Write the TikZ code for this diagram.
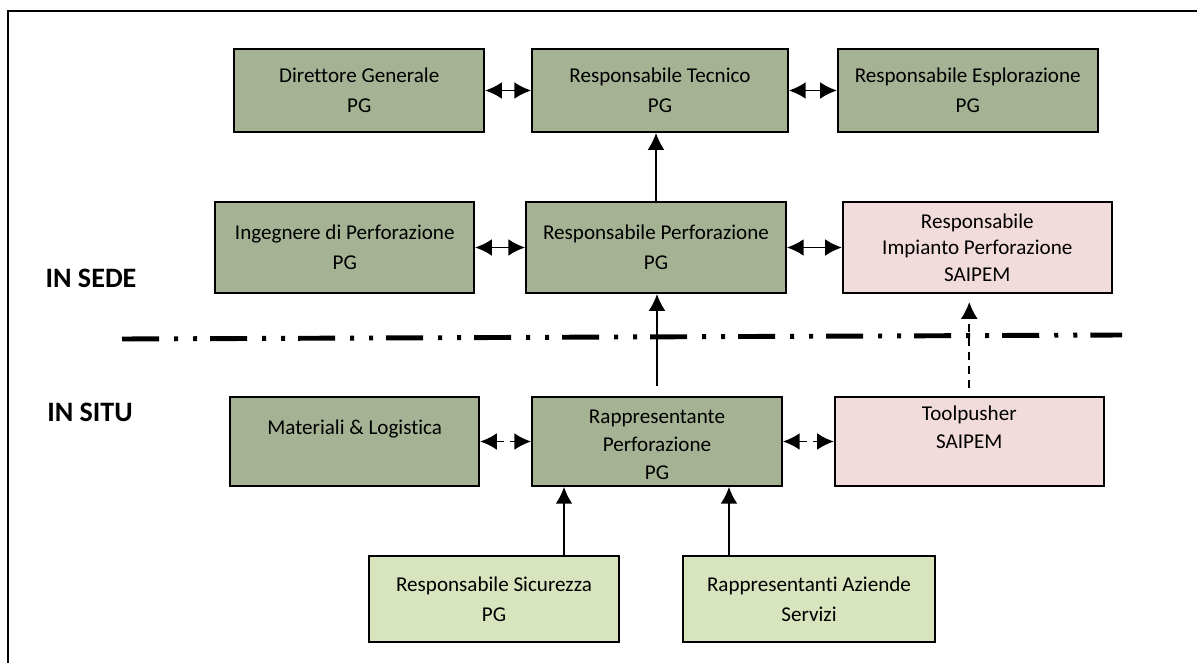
\documentclass[tikz,border=0pt]{standalone}
\usepackage{fontspec}
\setmainfont{Carlito}[Ligatures=CommonOff]
\usetikzlibrary{arrows.meta, positioning}
\definecolor{olivebox}{HTML}{A6B294}
\definecolor{rosebox}{HTML}{F2DCDB}
\definecolor{palebox}{HTML}{D7E4BD}
\definecolor{ink}{HTML}{000000}
\tikzset{
  box/.style      ={draw=ink, line width=1.2pt, align=center, inner sep=2pt,
                    font=\fontsize{15}{21}\selectfont, text=ink},
  boxg/.style     ={box, fill=olivebox},
  boxr/.style     ={box, fill=rosebox},
  boxl/.style     ={box, fill=palebox},
  flow/.style     ={-{Latex[length=4.2mm,width=4.2mm]}, line width=1.3pt, draw=ink},
  dflow/.style    ={{Latex[length=4.2mm,width=4.2mm]}-{Latex[length=4.2mm,width=4.2mm]},
                    line width=1.3pt, draw=ink},
  flowd/.style    ={flow, dash pattern=on 0.2cm off 0.15cm},
  dflowd/.style   ={dflow, dash pattern=on 0.2cm off 0.15cm},
  divider/.style  ={line width=3.5pt, draw=ink,
                    dash pattern=on 0.925cm off 0.375cm on 0.1cm off 0.375cm on 0.1cm off 0.325cm},
  sidelabel/.style={font=\fontsize{20}{24}\selectfont\bfseries, text=ink},
  frameline/.style={line width=1.4pt, draw=ink}
}

\begin{document}
\begin{tikzpicture}[x=0.025cm, y=-0.025cm]
  \useasboundingbox (0,0) rectangle (1197,663);
  \draw[frameline] (8,663) -- (8,11) -- (1197,11);

  \node[boxg, minimum width=6.4cm, minimum height=2.08cm] (tec) at (660,90.5) {Responsabile Tecnico\\PG};
  \node[boxg, left=1.15cm of tec, minimum width=6.25cm, minimum height=2.08cm] (dir) {Direttore Generale\\PG};
  \node[boxg, right=1.2cm of tec, minimum width=6.5cm, minimum height=2.08cm] (esp) {Responsabile Esplorazione\\PG};

  \node[boxg, minimum width=6.5cm, minimum height=2.28cm] (perf) at (656,247.5) {Responsabile Perforazione\\PG};
  \node[boxg, left=1.25cm of perf, minimum width=6.475cm, minimum height=2.28cm] (ing) {Ingegnere di Perforazione\\PG};
  \node[boxr, right=1.375cm of perf, minimum width=6.725cm, minimum height=2.28cm,
        font=\fontsize{15}{19}\selectfont] (imp) {Responsabile\\Impianto Perforazione\\SAIPEM};

  \node[boxg, minimum width=6.25cm, minimum height=2.225cm,
        font=\fontsize{15}{20}\selectfont] (rap) at (657,441.5) {\mbox{}\\[-6pt]Rappresentante\\Perforazione\\PG};
  \node[boxg, left=1.275cm of rap, minimum width=6.225cm, minimum height=2.225cm] (mat) {Materiali \& Logistica\\\mbox{}};
  \node[boxr, right=1.275cm of rap, minimum width=6.725cm, minimum height=2.225cm,
        font=\fontsize{15}{20}\selectfont] (tool) {Toolpusher\\SAIPEM\\\mbox{}};

  \node[boxl, minimum width=6.25cm, minimum height=2.15cm] (sic) at (494,599) {Responsabile Sicurezza\\PG};
  \node[boxl, minimum width=6.3cm, minimum height=2.15cm] (azi) at (809,599) {Rappresentanti Aziende\\Servizi};

  \node[sidelabel] (sede) at (91,278) {IN SEDE};
  \node[sidelabel] (situ) at (90,412) {IN SITU};
  \draw[divider] (122,339) -- (1122,335);

  \draw[dflow] (dir) -- (tec);
  \draw[dflow] (tec) -- (esp);
  \draw[flow] (perf.north) -- (perf.north |- tec.south);
  \draw[dflow] (ing) -- (perf);
  \draw[dflow] (perf) -- (imp);
  \draw[flow, shorten <=0.25cm] (rap.north) -- (rap.north |- perf.south);
  \draw[flowd, shorten <=0.2cm, shorten >=0.2cm] (tool.north) -- (tool.north |- imp.south);
  \draw[dflowd] (mat) -- (rap);
  \draw[dflowd] (rap) -- (tool);
  \draw[flow] ([xshift=1.75cm]sic.north) -- ([xshift=1.75cm]sic.north |- rap.south);
  \draw[flow] ([xshift=-2cm]azi.north) -- ([xshift=-2cm]azi.north |- rap.south);
\end{tikzpicture}
\end{document}
